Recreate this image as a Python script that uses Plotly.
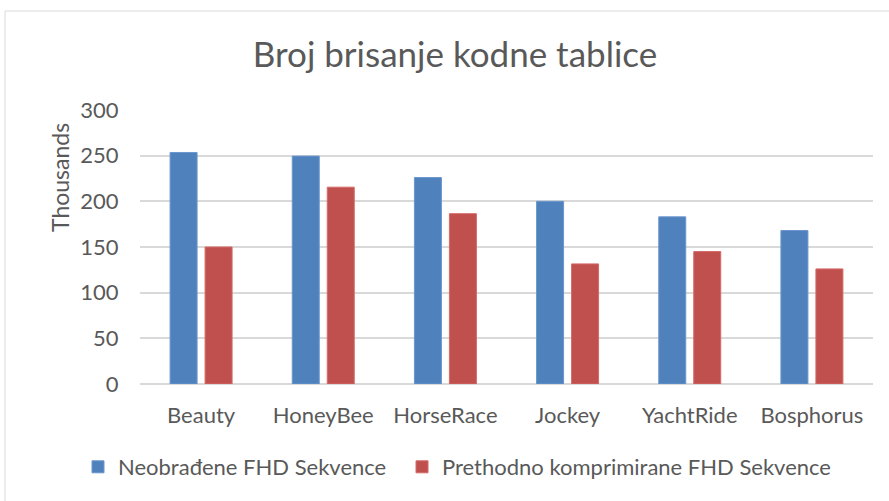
import plotly.graph_objects as go

categories = ["Beauty", "HoneyBee", "HorseRace", "Jockey", "YachtRide", "Bosphorus"]
series_names = ["Neobrađene FHD Sekvence", "Prethodno komprimirane FHD Sekvence"]
raw_values = [253.5, 249.5, 226, 200, 183, 168]
compressed_values = [150, 215.5, 186.5, 131.5, 145, 126]
y_ticks = [0, 50, 100, 150, 200, 250, 300]

FONT = "Lato, Open Sans, sans-serif"
GREY = "#595959"

fig = go.Figure()
fig.add_trace(go.Bar(x=categories, y=raw_values, name=series_names[0], legend="legend",
                     showlegend=True,
                     marker=dict(color="#4f81bd", line=dict(color="#6a96cc", width=1))))
fig.add_trace(go.Bar(x=categories, y=compressed_values, name=series_names[1], legend="legend2",
                     showlegend=True,
                     marker=dict(color="#c0504d", line=dict(color="#d46a67", width=1))))

L, R, T, B = 140, 16, 110, 117
W, H = 889, 501
pw, ph = W - L - R, H - T - B

leg_common = dict(orientation="h", xanchor="left", yanchor="middle", visible=True,
                  y=(H - B - 467) / ph, font=dict(size=22, color=GREY), itemwidth=30,
                  bgcolor="rgba(0,0,0,0)")

fig.update_layout(
    width=W, height=H, showlegend=True,
    margin=dict(l=L, r=R, t=T, b=B, autoexpand=False),
    paper_bgcolor="white", plot_bgcolor="white",
    barmode="group", bargap=0.427, bargroupgap=0.229,
    font=dict(family=FONT, color=GREY, size=22),
    title=dict(text="Broj brisanje kodne tablice", x=455 / W, xanchor="center",
               y=1 - 55 / H, yanchor="middle",
               font=dict(family=FONT, size=35, color=GREY)),
    xaxis=dict(showline=False, ticks="outside", ticklen=12, tickcolor="rgba(0,0,0,0)",
               tickfont=dict(size=22, color=GREY)),
    yaxis=dict(range=[0, 300], tickvals=y_ticks, showgrid=True, gridcolor="#d9d9d9",
               gridwidth=1.5, zeroline=True, zerolinecolor="#d9d9d9", zerolinewidth=1.5,
               ticks="outside", ticklen=16, tickcolor="rgba(0,0,0,0)",
               tickfont=dict(size=22, color=GREY)),
    legend=dict(x=(78 - L) / pw, **leg_common),
    legend2=dict(x=(402 - L) / pw, **leg_common),
    shapes=[dict(type="rect", xref="paper", yref="paper",
                 x0=(5 - L) / pw, x1=(W + 5 - L) / pw,
                 y0=(H - B - (H + 5)) / ph, y1=(H - B - 11) / ph,
                 line=dict(color="#d9d9d9", width=1), fillcolor="rgba(0,0,0,0)", layer="below")],
    annotations=[dict(text="Thousands", xref="paper", yref="paper",
                      x=(60 - L) / pw, y=(H - B - 178) / ph, textangle=-90,
                      showarrow=False, xanchor="center", yanchor="middle",
                      font=dict(size=23, color=GREY))],
)

fig.write_html("out.html", config={"displayModeBar": False},
               post_script="document.body.style.margin='0';document.body.style.overflow='hidden';")
